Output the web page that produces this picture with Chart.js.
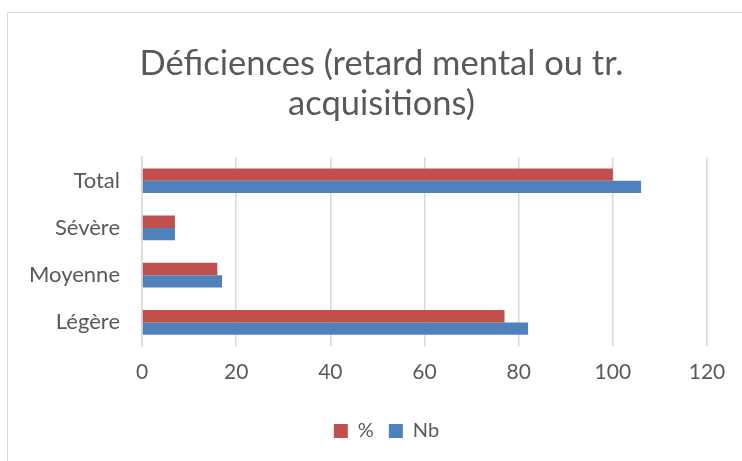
<!DOCTYPE html>
<html>
<head>
<meta charset="utf-8">
<script src="https://cdn.jsdelivr.net/npm/chart.js@4"></script>
<style>
  html, body { margin: 0; padding: 0; background: #fff; }
  #wrap { position: relative; width: 742px; height: 461px; overflow: hidden; }
  #frame { position: absolute; left: 7px; top: 12px; width: 760px; height: 470px;
           border-top: 1px solid #d9d9d9; border-left: 1px solid #d9d9d9; }
  canvas { position: absolute; left: 0; top: 0; }
</style>
</head>
<body>
<div id="wrap">
  <div id="frame"></div>
  <canvas id="chart" width="742" height="461"></canvas>
</div>
<script>
// categories, top to bottom
const categories = ['Total', 'Sévère', 'Moyenne', 'Légère'];
// series values
const pctValues = [100, 7, 16, 77];
const nbValues = [106, 7, 17, 82];
const seriesNames = ['%', 'Nb'];
const xTicks = [0, 20, 40, 60, 80, 100, 120];

const FONT = 'Lato, "Open Sans", sans-serif';
const GREY = '#595959';

// the original frame is wider than the picture, so title and legend sit a bit right of centre
const nudgeBoxes = {
  id: 'nudgeBoxes',
  afterLayout(chart) {
    const move = (box, dx) => { box.left += dx; box.right += dx; };
    move(chart.titleBlock, 24);
    move(chart.legend, 29);
  }
};

new Chart(document.getElementById('chart'), {
  type: 'bar',
  data: {
    labels: categories,
    datasets: [
      { label: seriesNames[0], data: pctValues, backgroundColor: '#c0504d' },
      { label: seriesNames[1], data: nbValues, backgroundColor: '#4f81bd' }
    ]
  },
  plugins: [nudgeBoxes],
  options: {
    indexAxis: 'y',
    responsive: false,
    animation: false,
    devicePixelRatio: 1,
    categoryPercentage: 0.52,
    barPercentage: 1,
    layout: { padding: { left: 8, right: 35, top: 0, bottom: 10 } },
    plugins: {
      title: {
        display: true,
        text: ['Déficiences (retard mental ou tr.', 'acquisitions)'],
        color: GREY,
        font: { family: FONT, size: 34.5, weight: 'normal', lineHeight: 1.16 },
        padding: { top: 44, bottom: 33 }
      },
      legend: {
        position: 'bottom',
        labels: {
          color: GREY,
          font: { family: FONT, size: 20 },
          boxWidth: 14,
          boxHeight: 14,
          padding: 15
        }
      },
      tooltip: { enabled: false }
    },
    scales: {
      x: {
        min: 0,
        max: 120,
        afterBuildTicks: (scale) => { scale.ticks = xTicks.map(v => ({ value: v })); },
        grid: { color: '#d9d9d9', lineWidth: 1.5, drawTicks: false },
        border: { display: false },
        ticks: { color: GREY, font: { family: FONT, size: 21 }, padding: 14 },
        afterFit: (scale) => { scale.height = 60; }
      },
      y: {
        grid: { display: false, drawTicks: false },
        border: { display: true, color: '#d9d9d9', width: 1.5 },
        ticks: { color: GREY, font: { family: FONT, size: 22 }, padding: 22 },
        afterFit: (scale) => { scale.width = 134; }
      }
    }
  }
});
</script>
</body>
</html>
